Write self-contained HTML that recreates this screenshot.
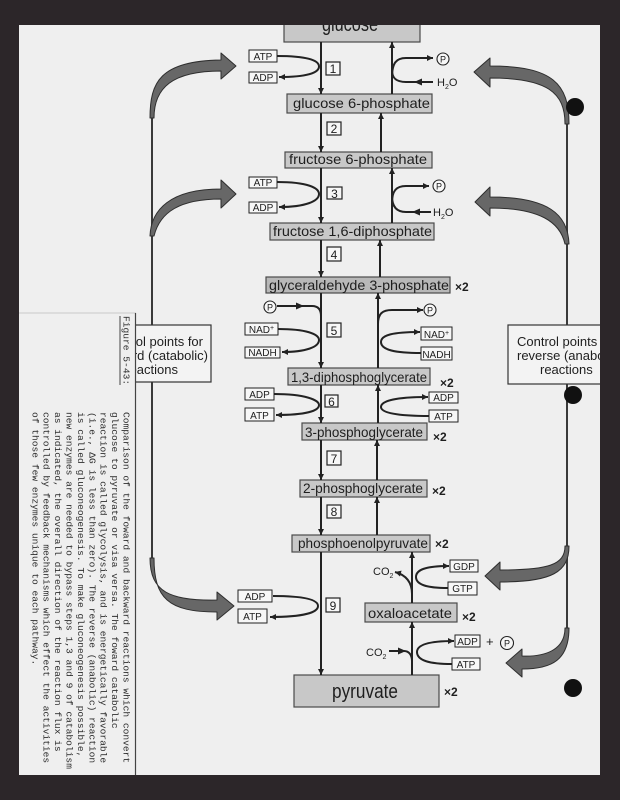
<!DOCTYPE html>
<html><head><meta charset="utf-8"><style>
html,body{margin:0;padding:0;background:#2c2629;}
svg{display:block;}
.c{font-family:"Liberation Sans",sans-serif;fill:#1e1e1e;}
.m{font-family:"Liberation Mono",monospace;fill:#2e2e2e;}
</style></head><body>
<svg width="620" height="800" viewBox="0 0 620 800" xmlns="http://www.w3.org/2000/svg">
<defs>
<marker id="ah" viewBox="0 0 10 10" refX="10" refY="5" markerWidth="7" markerHeight="6" orient="auto" markerUnits="userSpaceOnUse"><path d="M0,0 L10,5 L0,10 z" fill="#222"/></marker>
<clipPath id="paper"><rect x="19" y="25" width="581" height="750"/></clipPath>
<clipPath id="cap"><rect x="19" y="313" width="117" height="461"/></clipPath>
</defs>

<rect x="0" y="0" width="620" height="800" fill="#2c2629"/>
<g clip-path="url(#paper)">
<rect x="19" y="25" width="581" height="750" fill="#efefef"/>

<!-- compound boxes -->
<g fill="#c8c8c8" stroke="#4a4a4a" stroke-width="1.2">
<rect x="284" y="16" width="136" height="26"/>
<rect x="287" y="94" width="145" height="19"/>
<rect x="285" y="152" width="147" height="16"/>
<rect x="270" y="223" width="164" height="17"/>
<rect x="266" y="277" width="184" height="16" fill="#b8b8b8"/>
<rect x="288" y="368" width="142" height="17"/>
<rect x="302" y="423" width="125" height="17"/>
<rect x="300" y="480" width="127" height="17"/>
<rect x="292" y="535" width="138" height="17"/>
<rect x="365" y="603" width="92" height="19"/>
<rect x="294" y="675" width="145" height="32"/>
</g>
<g class="c" font-size="14">
<text x="322" y="31" font-size="20" textLength="56" lengthAdjust="spacingAndGlyphs">glucose</text>
<text x="293" y="108" textLength="137" lengthAdjust="spacingAndGlyphs">glucose 6-phosphate</text>
<text x="289" y="164" textLength="138" lengthAdjust="spacingAndGlyphs">fructose 6-phosphate</text>
<text x="273" y="236" textLength="159" lengthAdjust="spacingAndGlyphs">fructose 1,6-diphosphate</text>
<text x="269" y="290" textLength="180" lengthAdjust="spacingAndGlyphs">glyceraldehyde 3-phosphate</text>
<text x="291" y="382" textLength="136" lengthAdjust="spacingAndGlyphs">1,3-diphosphoglycerate</text>
<text x="305" y="437" textLength="118" lengthAdjust="spacingAndGlyphs">3-phosphoglycerate</text>
<text x="303" y="493" textLength="120" lengthAdjust="spacingAndGlyphs">2-phosphoglycerate</text>
<text x="298" y="548" textLength="130" lengthAdjust="spacingAndGlyphs">phosphoenolpyruvate</text>
<text x="368" y="618" textLength="84" lengthAdjust="spacingAndGlyphs">oxaloacetate</text>
<text x="332" y="698" font-size="20" textLength="66" lengthAdjust="spacingAndGlyphs">pyruvate</text>
</g>
<g class="c" font-size="12" font-weight="bold">
<text x="455" y="291">×2</text>
<text x="440" y="387">×2</text>
<text x="433" y="441">×2</text>
<text x="432" y="495">×2</text>
<text x="435" y="548">×2</text>
<text x="462" y="621">×2</text>
<text x="444" y="696">×2</text>
</g>

<!-- main forward lines -->
<g stroke="#222" stroke-width="2" fill="none" marker-end="url(#ah)">
<line x1="321" y1="42" x2="321" y2="94"/>
<line x1="321" y1="113" x2="321" y2="152"/>
<line x1="321" y1="168" x2="321" y2="223"/>
<line x1="321" y1="240" x2="321" y2="277"/>
<line x1="321" y1="293" x2="321" y2="368"/>
<line x1="321" y1="385" x2="321" y2="423"/>
<line x1="321" y1="440" x2="321" y2="480"/>
<line x1="321" y1="497" x2="321" y2="535"/>
<line x1="321" y1="552" x2="321" y2="675"/>
<!-- reverse -->
<line x1="392" y1="94" x2="392" y2="42"/>
<line x1="381" y1="152" x2="381" y2="113"/>
<line x1="392" y1="223" x2="392" y2="168"/>
<line x1="380" y1="277" x2="380" y2="240"/>
<line x1="378" y1="368" x2="378" y2="293"/>
<line x1="378" y1="423" x2="378" y2="385"/>
<line x1="377" y1="480" x2="377" y2="440"/>
<line x1="377" y1="535" x2="377" y2="497"/>
<line x1="412" y1="603" x2="412" y2="552"/>
<line x1="412" y1="675" x2="412" y2="622"/>
</g>

<!-- step number boxes -->
<g fill="#f7f7f7" stroke="#222" stroke-width="1.2">
<rect x="326" y="62" width="14" height="13"/>
<rect x="327" y="122" width="14" height="13"/>
<rect x="327" y="187" width="15" height="12"/>
<rect x="327" y="247" width="14" height="14"/>
<rect x="327" y="323" width="14" height="14"/>
<rect x="325" y="395" width="13" height="12"/>
<rect x="327" y="451" width="14" height="14"/>
<rect x="327" y="505" width="14" height="13"/>
<rect x="326" y="598" width="14" height="14"/>
</g>
<g class="c" font-size="12" text-anchor="middle">
<text x="333" y="73">1</text>
<text x="334" y="133">2</text>
<text x="334.5" y="198">3</text>
<text x="334" y="259">4</text>
<text x="334" y="335">5</text>
<text x="331.5" y="406">6</text>
<text x="334" y="463">7</text>
<text x="334" y="516">8</text>
<text x="333" y="610">9</text>
</g>

<!-- cofactor boxes -->
<g fill="#f7f7f7" stroke="#222" stroke-width="1">
<rect x="249" y="50" width="28" height="12"/>
<rect x="249" y="72" width="28" height="11"/>
<rect x="249" y="177" width="28" height="11"/>
<rect x="249" y="202" width="28" height="11"/>
<rect x="245" y="323" width="33" height="12"/>
<rect x="245" y="347" width="35" height="11"/>
<rect x="245" y="388" width="29" height="12"/>
<rect x="245" y="408" width="29" height="13"/>
<rect x="421" y="327" width="31" height="13"/>
<rect x="421" y="347" width="31" height="13"/>
<rect x="429" y="392" width="29" height="11"/>
<rect x="429" y="410" width="29" height="12"/>
<rect x="238" y="590" width="34" height="12"/>
<rect x="238" y="609" width="29" height="14"/>
<rect x="450" y="560" width="28" height="12"/>
<rect x="448" y="582" width="29" height="13"/>
<rect x="455" y="635" width="25" height="12"/>
<rect x="452" y="658" width="28" height="12"/>
</g>
<g class="c" font-size="10" text-anchor="middle">
<text x="263" y="60">ATP</text>
<text x="263" y="81">ADP</text>
<text x="263" y="186">ATP</text>
<text x="263" y="211">ADP</text>
<text x="261.5" y="333">NAD<tspan font-size="7" dy="-3">+</tspan></text>
<text x="262.5" y="356">NADH</text>
<text x="259.5" y="398">ADP</text>
<text x="259.5" y="419">ATP</text>
<text x="436.5" y="338">NAD<tspan font-size="7" dy="-3">+</tspan></text>
<text x="436.5" y="358">NADH</text>
<text x="443.5" y="401">ADP</text>
<text x="443.5" y="420">ATP</text>
<text x="255" y="600">ADP</text>
<text x="252.5" y="620">ATP</text>
<text x="464" y="570">GDP</text>
<text x="462.5" y="592">GTP</text>
<text x="467.5" y="645">ADP</text>
<text x="466" y="668">ATP</text>
</g>

<!-- side reaction curves -->
<g stroke="#222" stroke-width="2" fill="none">
<path d="M277,56 C306,56 319,60 319,66.5 C319,73 306,77 279,77" marker-end="url(#ah)"/>
<path d="M277,182 C308,182 319,188 319,194 C319,201 306,207 279,207" marker-end="url(#ah)"/>
<path d="M277,306 L312,306 Q321,306 321,316"/>
<path d="M278,329 C306,329 319,334 319,340 C319,347 306,352 282,352" marker-end="url(#ah)"/>
<path d="M274,394 C305,394 319,400 319,405 C319,411 305,415 276,415" marker-end="url(#ah)"/>
<path d="M273,596 C306,596 318,600 318,606 C318,612 305,617 270,617" marker-end="url(#ah)"/>

<path d="M392,78 C392,63 396,58 406,58 L433,58" marker-end="url(#ah)"/>
<path d="M392,70 C392,78 396,82 406,82 L433,82"/>
<path d="M392,203 C392,191 396,186 406,186 L429,186" marker-end="url(#ah)"/>
<path d="M392,196 C392,206 396,212 406,212 L431,212"/>

<path d="M378,324 C378,314 382,310 392,310 L423,310" marker-end="url(#ah)"/>
<path d="M421,353 C395,353 381,350 381,342 C381,335 393,332 420,332" marker-end="url(#ah)"/>
<path d="M429,416 C398,416 381,413 381,407 C381,401 395,397 428,397" marker-end="url(#ah)"/>

<path d="M412,594 C412,582 406,575 395,572" marker-end="url(#ah)"/>
<path d="M448,588 C425,588 416,584 416,577 C416,570 425,566 449,566" marker-end="url(#ah)"/>
<path d="M389,651 L404,651 C409,651 412,655 412,661"/>
<path d="M452,664 C428,664 417,660 417,652 C417,645 428,641 454,641" marker-end="url(#ah)"/>
</g>
<g fill="#222">
<path d="M296,302.5 L304,306 L296,309.5 z"/>
<path d="M422,78.5 L414,82 L422,85.5 z"/>
<path d="M420,208.5 L412,212 L420,215.5 z"/>
<path d="M398,647.5 L406,651 L398,654.5 z"/>
</g>
<g fill="#f7f7f7" stroke="#222" stroke-width="1.1">
<circle cx="443" cy="59" r="6"/>
<circle cx="439" cy="186" r="6"/>
<circle cx="270" cy="307" r="6"/>
<circle cx="430" cy="310" r="6"/>
<circle cx="507" cy="643" r="6.5"/>
</g>
<g class="c" font-size="9" text-anchor="middle">
<text x="443" y="62.5">P</text>
<text x="439" y="189.5">P</text>
<text x="270" y="310.5">P</text>
<text x="430" y="313.5">P</text>
<text x="507" y="646.5">P</text>
</g>
<g class="c" font-size="11">
<text x="437" y="86">H<tspan font-size="7" dy="3">2</tspan><tspan dy="-3">O</tspan></text>
<text x="433" y="216">H<tspan font-size="7" dy="3">2</tspan><tspan dy="-3">O</tspan></text>
<text x="373" y="575">CO<tspan font-size="7" dy="3">2</tspan></text>
<text x="366" y="656">CO<tspan font-size="7" dy="3">2</tspan></text>
<text x="486" y="646" font-size="13">+</text>
</g>

<!-- control verticals -->
<g stroke="#3a3a3a" stroke-width="2" fill="none">
<line x1="152" y1="112" x2="152" y2="563"/>
<line x1="567" y1="118" x2="567" y2="634"/>
</g>
<!-- big gray arrows -->
<g fill="#676767" stroke="#2e2e2e" stroke-width="1" stroke-linejoin="round">
<path d="M150,118 C150,82 160,61 221,60 L221,53 L236,66 L221,79 L221,71 C172,71 154,88 154,118 Z"/>
<path d="M150,236 C151,210 170,189 221,189 L221,180 L236,194 L221,208 L221,199 C180,199 160,212 154,236 Z"/>
<path d="M150,558 C150,592 170,601 217,600 L217,592 L234,606 L217,620 L217,612 C168,612 154,598 154,558 Z"/>
<path d="M569,124 C569,84 553,66 490,66 L490,58 L474,72 L490,87 L490,78 C548,78 565,93 565,124 Z"/>
<path d="M569,244 C568,214 548,197 490,197 L490,187 L475,202 L490,216 L490,208 C540,208 560,222 565,244 Z"/>
<path d="M565,546 C565,565 548,570 500,570 L500,562 L485,576 L500,590 L500,582 C552,582 569,572 569,546 Z"/>
<path d="M565,628 C565,650 545,657 522,656 L522,649 L506,663 L522,677 L522,669 C552,669 569,660 569,628 Z"/>
</g>

<!-- control boxes -->
<rect x="110" y="325" width="101" height="57" fill="#f3f3f3" stroke="#333" stroke-width="1.2"/>
<g class="c" font-size="13" text-anchor="end">
<text x="203" y="346">Control points for</text>
<text x="208" y="360">forward (catabolic)</text>
<text x="178" y="374">reactions</text>
</g>
<rect x="508" y="325" width="110" height="59" fill="#f3f3f3" stroke="#333" stroke-width="1.2"/>
<g class="c" font-size="13">
<text x="517" y="346">Control points for</text>
<text x="517" y="360">reverse (anabolic)</text>
<text x="540" y="374">reactions</text>
</g>

<!-- caption strip -->
<rect x="19" y="313" width="117" height="461" fill="#efefef"/>
<line x1="19" y1="313" x2="136" y2="313" stroke="#c8c8c8" stroke-width="1"/>
<line x1="135.5" y1="313" x2="135.5" y2="775" stroke="#444" stroke-width="1.2"/>
<g clip-path="url(#cap)">
<text class="m" font-size="9.6" transform="translate(123.5,316) rotate(90)">Figure 5-43:</text>
<line x1="120" y1="316" x2="120" y2="385" stroke="#444" stroke-width="1"/>
<g class="m" font-size="9.6" style="white-space:pre">
<text transform="translate(123.5,412) rotate(90)">Comparison of the foward and backward reactions which convert</text>
<text transform="translate(112.1,412) rotate(90)">glucose to pyruvate or visa versa.  The foward catabolic</text>
<text transform="translate(100.7,412) rotate(90)">reaction is called glycolysis, and is energetically favorable</text>
<text transform="translate(89.3,412) rotate(90)">(i.e., ΔG is less than zero).  The reverse (anabolic) reaction</text>
<text transform="translate(77.9,412) rotate(90)">is called gluconeogenesis.  To make gluconeogenesis possible,</text>
<text transform="translate(66.5,412) rotate(90)">new enzymes are needed to bypass steps 1,3 and 9 of catabolism</text>
<text transform="translate(55.1,412) rotate(90)">as indicated, the overall direction of the reaction flux is</text>
<text transform="translate(43.7,412) rotate(90)">controlled by feedback mechanisms which effect the activities</text>
<text transform="translate(32.3,412) rotate(90)">of those few enzymes unique to each pathway.</text>
</g>
</g>
</g>

<!-- hole punches -->
<g fill="#111">
<circle cx="575" cy="107" r="9"/>
<circle cx="573" cy="395" r="9"/>
<circle cx="573" cy="688" r="9"/>
</g>
</svg>
</body></html>
